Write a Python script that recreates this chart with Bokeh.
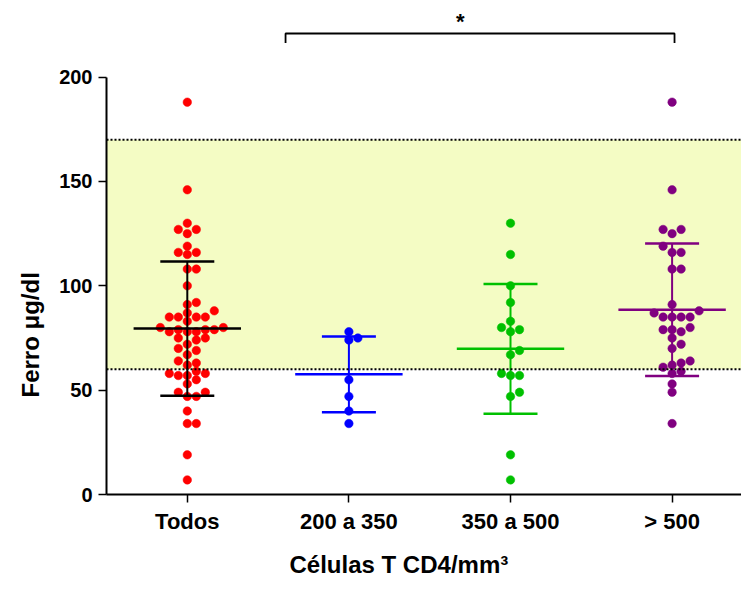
import numpy as np
from bokeh.plotting import figure
from bokeh.models import Range1d, FixedTicker, BoxAnnotation, Span, Title
from bokeh.core.properties import value
from bokeh.embed import file_html
from bokeh.resources import INLINE

# ---------------- data ----------------
categories = ["Todos", "200 a 350", "350 a 500", "> 500"]
todos = [188, 146, 130, 127, 127, 125, 119, 116, 115, 116, 108, 108, 100, 92, 91,
         88, 87, 85, 85, 83, 85, 85, 79, 79, 78, 80, 80, 78, 78, 79, 75, 75, 74,
         72, 70, 69, 67, 63, 64, 62, 58, 57, 59, 57, 58, 55, 53, 49, 47, 47, 49,
         40, 34, 34, 19, 7]
cd4_200_350 = [78, 74, 75, 55, 47, 40, 34]
cd4_350_500 = [130, 115, 100, 92, 83, 79, 80, 78, 69, 67, 57, 57, 58, 49, 47, 19, 7]
cd4_gt_500 = [188, 146, 127, 127, 125, 119, 116, 116, 108, 108, 91, 87, 88, 85, 85,
              85, 85, 80, 79, 78, 79, 75, 70, 72, 64, 63, 61, 62, 59, 58, 53, 49, 34]
groups = [todos, cd4_200_350, cd4_350_500, cd4_gt_500]
point_colors = ["#ff0000", "#0000ff", "#00c000", "#800080"]
bar_colors = ["#000000", "#0000ff", "#00c000", "#800080"]
ref_low, ref_high = 60, 170
y_ticks = [0, 50, 100, 150, 200]
x_title = "Células T CD4/mm³"
y_title = "Ferro μg/dl"

# ---------------- layout ----------------
W, H = 741, 589
BL, BR, BT, BB = 106, 0, 10, 95
FW, FH = W - BL - BR, H - BT - BB
Y_PX = 2.087
X_PX = 161.6
x0 = 0.5
x1 = x0 + FW / X_PX
y1 = FH / Y_PX
FONT = "Liberation Sans"

p = figure(width=W, height=H, output_backend="svg", toolbar_location=None,
           x_range=Range1d(x0, x1), y_range=Range1d(0, y1),
           min_border_left=BL, min_border_right=BR, min_border_top=BT,
           min_border_bottom=BB)
p.outline_line_color = None
p.grid.visible = False
p.background_fill_color = "white"
p.border_fill_color = "white"

# reference band
p.add_layout(BoxAnnotation(bottom=ref_low, top=ref_high, fill_color="#f4fcc4",
                           fill_alpha=1.0, line_color=None, level="underlay"))
for loc in (ref_low, ref_high):
    p.add_layout(Span(location=loc, dimension="width", line_color="black",
                      line_dash="2 2", line_width=2))


def swarm(vals, center, step_px=9.0, diam_px=8.0):
    vals = np.asarray(vals, dtype=float)
    order = np.argsort(vals, kind="stable")
    placed = []
    offs = np.zeros(len(vals))
    cands = [0]
    for j in range(1, 30):
        cands += [j, -j]
    for i in order:
        ypx = vals[i] * Y_PX
        for c in cands:
            if all(not (pc == c and abs(py - ypx) < diam_px) for pc, py in placed):
                break
        placed.append((c, ypx))
        offs[i] = c * step_px / X_PX
    return center + offs


MEAN_HW = 53.7 / X_PX
CAP_HW = 27.0 / X_PX

for k, (vals, pc, bc) in enumerate(zip(groups, point_colors, bar_colors)):
    cx = k + 1
    xs = swarm(vals, cx)
    p.scatter(xs, vals, size=8.5, fill_color=pc, line_color=pc, line_width=0.5)
    m = float(np.mean(vals))
    sd = float(np.std(vals, ddof=1))
    p.segment(x0=[cx - MEAN_HW], x1=[cx + MEAN_HW], y0=[m], y1=[m],
              line_color=bc, line_width=2.5)
    p.segment(x0=[cx - CAP_HW, cx - CAP_HW], x1=[cx + CAP_HW, cx + CAP_HW],
              y0=[m - sd, m + sd], y1=[m - sd, m + sd], line_color=bc, line_width=2.5)
    p.segment(x0=[cx], x1=[cx], y0=[m - sd], y1=[m + sd], line_color=bc, line_width=2)

# significance bracket (annotation)
bx0, bx1 = 1.608, 4.015
by_top, by_leg = 220.9, 216.3
p.line([bx0, bx0, bx1, bx1], [by_leg, by_top, by_top, by_leg], line_color="black",
       line_width=1.8)
p.text(x=[2.69], y=[226.5], text=["*"], text_align="center", text_baseline="middle",
       text_font=value(FONT), text_font_style="bold", text_font_size="22px",
       text_color="black")

# axes
p.xaxis.ticker = FixedTicker(ticks=[1, 2, 3, 4])
p.xaxis.major_label_overrides = {i + 1: c for i, c in enumerate(categories)}
p.xaxis.minor_tick_line_color = None
p.xaxis.major_tick_in = 0
p.xaxis.major_tick_out = 8
p.xaxis.major_tick_line_width = 1.5
p.xaxis.axis_line_width = 2
p.xaxis.major_label_standoff = 6
p.xaxis.major_label_text_font = FONT
p.xaxis.major_label_text_font_style = "bold"
p.xaxis.major_label_text_font_size = "22px"
p.xaxis.major_label_text_color = "black"

p.yaxis.ticker = FixedTicker(ticks=y_ticks)
p.yaxis.bounds = (0, 200)
p.yaxis.minor_tick_line_color = None
p.yaxis.major_tick_in = 0
p.yaxis.major_tick_out = 8
p.yaxis.major_tick_line_width = 1.5
p.yaxis.axis_line_width = 2
p.yaxis.major_label_standoff = 6
p.yaxis.major_label_text_font = FONT
p.yaxis.major_label_text_font_style = "bold"
p.yaxis.major_label_text_font_size = "20px"
p.yaxis.major_label_text_color = "black"

# axis titles as side titles (allow offset along the axis)
p.add_layout(Title(text=x_title, align="left", offset=183, standoff=24,
                   text_font=FONT, text_font_style="bold", text_font_size="24px",
                   text_color="black"), "below")
p.add_layout(Title(text=y_title, align="left", offset=97, standoff=26,
                   text_font=FONT, text_font_style="bold", text_font_size="24px",
                   text_color="black"), "left")

open("out.html", "w").write(file_html(p, INLINE))
